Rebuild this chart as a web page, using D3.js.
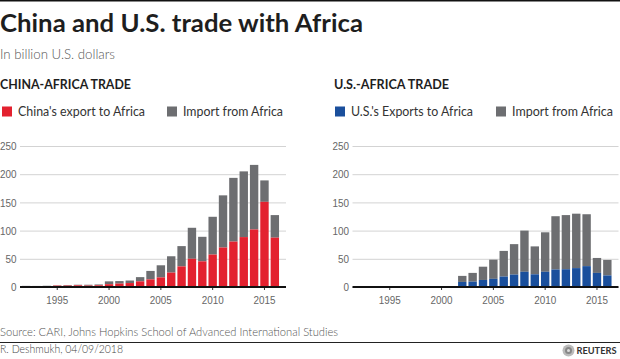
<!DOCTYPE html>
<html>
<head>
<meta charset="utf-8">
<script src="https://cdn.jsdelivr.net/npm/d3@7"></script>
<style>
  body { margin: 0; background: #fff; }
  svg { display: block; font-family: 'Source Sans Pro', Lato, 'Open Sans', sans-serif; }
</style>
</head>
<body>
<svg id="chart" width="620" height="359"></svg>
<script>
// years shown on both panels
const years = d3.range(1992, 2017);
const tickYears = [1995, 2000, 2005, 2010, 2015];
const yTicks = [0, 50, 100, 150, 200, 250];

// China-Africa trade, billion USD (1992..2016)
const chinaExports = [1.5, 1.5, 1.7, 2.5, 2.5, 3.0, 2.5, 3.0, 5.0, 6.0, 7.0, 10.0, 13.5, 17.0, 25.5, 36.5, 50.0, 45.5, 57.5, 70.0, 80.5, 88.5, 102.0, 151.0, 87.5];
const chinaImports = [0.5, 0.4, 0.5, 0.5, 1.0, 1.0, 1.5, 1.5, 5.0, 4.5, 4.5, 7.5, 15.0, 21.5, 29.0, 36.0, 55.0, 43.5, 67.0, 92.5, 113.0, 116.5, 114.5, 38.0, 40.0];

// U.S.-Africa trade, billion USD (2002..2016)
const usYears = d3.range(2002, 2017);
const usExports = [9.0, 9.5, 12.5, 14.5, 18.5, 22.0, 27.0, 22.5, 27.0, 31.0, 31.5, 33.5, 37.0, 25.0, 20.5];
const usImports = [10.7, 15.5, 23.5, 34.0, 45.5, 54.0, 73.0, 49.5, 70.0, 94.5, 96.0, 96.5, 92.0, 26.5, 27.5];

const RED = '#e3212f', BLUE = '#1a4f9c', GRAY = '#6d6e71';

const svg = d3.select('#chart');

// fit a text to a measured width (the original uses a narrow face)
function fit(sel, w) {
  sel.attr('textLength', w).attr('lengthAdjust', 'spacingAndGlyphs');
  return sel;
}

// top rule
svg.append('rect').attr('x', 0).attr('y', 0).attr('width', 620).attr('height', 1.5).attr('fill', '#111');

fit(svg.append('text').attr('x', 0).attr('y', 31.5)
  .attr('font-size', 25).attr('font-weight', 700).attr('fill', '#1e1e1e')
  .text('China and U.S. trade with Africa'), 363);

fit(svg.append('text').attr('x', 0).attr('y', 59)
  .attr('font-size', 14).attr('font-weight', 300).attr('fill', '#555')
  .text('In billion U.S. dollars'), 115);

const y = d3.scaleLinear().domain([0, 250]).range([287, 146]);

function panel(x0, title, titleW, legend, keys, exp, imp, color) {
  const g = svg.append('g');

  fit(g.append('text').attr('x', x0).attr('y', 89)
    .attr('font-size', 13.5).attr('font-weight', 700).attr('fill', '#1e1e1e')
    .text(title), titleW);

  legend.forEach((l, i) => {
    g.append('rect').attr('x', l.x).attr('y', 106.5).attr('width', 10).attr('height', 10)
      .attr('fill', i === 0 ? color : GRAY);
    fit(g.append('text').attr('x', l.x + 16).attr('y', 116)
      .attr('font-size', 13.5).attr('fill', '#333').text(l.label), l.w);
  });

  const left = x0 === 0 ? 20 : 352.5;
  const x = d3.scaleBand().domain(years).range([left, left + 261]).padding(0.19);
  const gridRight = left + 266;

  // y grid + labels
  g.append('g')
    .attr('transform', `translate(${gridRight},0)`)
    .call(d3.axisLeft(y).tickValues(yTicks).tickSize(266).tickPadding(3.5))
    .call(a => a.select('.domain').remove())
    .call(a => a.selectAll('.tick line').attr('stroke', '#d3d3d3').attr('stroke-width', 1))
    .call(a => a.selectAll('.tick text').attr('fill', '#666').attr('font-size', 11.5)
      .attr('font-family', null)
      .attr('textLength', d => String(d).length * 5.5).attr('lengthAdjust', 'spacingAndGlyphs'));

  const data = keys.map((yr, i) => ({ yr, e: exp[i], m: imp[i] }));

  g.append('g').selectAll('rect').data(data).join('rect')
    .attr('x', d => x(d.yr)).attr('width', x.bandwidth())
    .attr('y', d => y(d.e + d.m)).attr('height', d => y(d.e) - y(d.e + d.m))
    .attr('fill', GRAY);

  g.append('g').selectAll('rect').data(data).join('rect')
    .attr('x', d => x(d.yr)).attr('width', x.bandwidth())
    .attr('y', d => y(d.e)).attr('height', d => y(0) - y(d.e))
    .attr('fill', color);

  // x axis
  g.append('g')
    .attr('transform', `translate(0,${y(0)})`)
    .call(d3.axisBottom(x).tickValues(tickYears).tickSize(3).tickPadding(5.5))
    .call(a => a.select('.domain').remove())
    .call(a => a.selectAll('.tick line').attr('stroke', '#333'))
    .call(a => a.selectAll('.tick text').attr('fill', '#666').attr('font-size', 11.5)
      .attr('font-family', null)
      .attr('textLength', 22).attr('lengthAdjust', 'spacingAndGlyphs'));

  g.append('line').attr('x1', left).attr('x2', gridRight)
    .attr('y1', y(0)).attr('y2', y(0)).attr('stroke', '#111').attr('stroke-width', 2);
}

panel(0, 'CHINA-AFRICA TRADE', 131,
  [{ x: 2, label: "China's export to Africa", w: 127 }, { x: 167, label: 'Import from Africa', w: 100 }],
  years, chinaExports, chinaImports, RED);

panel(334, 'U.S.-AFRICA TRADE', 115,
  [{ x: 335, label: "U.S.'s Exports to Africa", w: 122 }, { x: 496, label: 'Import from Africa', w: 101 }],
  usYears, usExports, usImports, BLUE);

// footer
fit(svg.append('text').attr('x', 0).attr('y', 336)
  .attr('font-size', 12).attr('font-weight', 300).attr('fill', '#555')
  .text('Source: CARI, Johns Hopkins School of Advanced International Studies'), 338);

svg.append('line').attr('x1', 0).attr('x2', 620).attr('y1', 342.5).attr('y2', 342.5)
  .attr('stroke', '#222').attr('stroke-width', 1);

fit(svg.append('text').attr('x', 0).attr('y', 353)
  .attr('font-size', 12).attr('font-weight', 300).attr('fill', '#444')
  .text('R. Deshmukh, 04/09/2018'), 123);

// Reuters mark
const logo = svg.append('g').attr('transform', 'translate(568.5,350.5)');
logo.append('circle').attr('r', 6).attr('fill', '#bbb');
logo.append('circle').attr('r', 3.5).attr('fill', '#888');
logo.append('circle').attr('r', 1.5).attr('fill', '#ddd');
fit(svg.append('text').attr('x', 576.5).attr('y', 354)
  .attr('font-size', 10).attr('font-weight', 700).attr('fill', '#333')
  .text('REUTERS'), 40);
</script>
</body>
</html>
